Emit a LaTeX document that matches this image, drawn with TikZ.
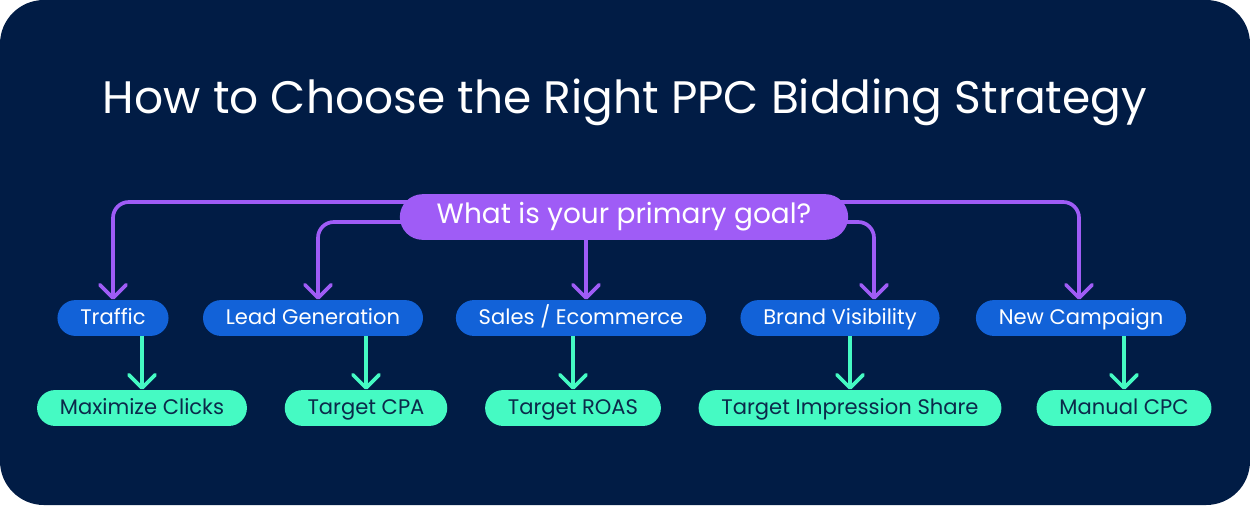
\documentclass[tikz,border=0pt]{standalone}
\usepackage{fontspec}
\setmainfont{Poppins}
\usetikzlibrary{arrows.meta,calc,backgrounds}
\definecolor{navybg}{HTML}{011C45}
\definecolor{goalpurple}{HTML}{9F5CF6}
\definecolor{goalblue}{HTML}{1262D8}
\definecolor{bidgreen}{HTML}{45FAC3}
\definecolor{bidtext}{HTML}{0B2A4A}
\begin{document}
\begin{tikzpicture}[x=0.02cm, y=-0.02cm,
    question/.style={fill=goalpurple, text=white, rounded corners=13pt, minimum height=26pt,
        inner xsep=21pt, text height=0.7em, text depth=0pt, font=\fontsize{15.9}{18}\selectfont},
    goalbox/.style={fill=goalblue, text=white, rounded corners=10.2pt, minimum height=20.4pt,
        inner xsep=13pt, text height=0.7em, text depth=0pt, font=\fontsize{12}{14}\selectfont},
    bidbox/.style={fill=bidgreen, text=bidtext, rounded corners=10.2pt, minimum height=20.4pt,
        inner xsep=13pt, text height=0.7em, text depth=0pt, font=\fontsize{12}{14}\selectfont},
    purplearrow/.style={draw=goalpurple, line width=2.1pt, rounded corners=9pt,
        -{Straight Barb[length=7.5pt, width=15pt, round]}},
    greenarrow/.style={draw=bidgreen, line width=2.1pt,
        -{Straight Barb[length=7.5pt, width=15pt, round]}}]

    \useasboundingbox (0,0) rectangle (1250,505);
    \begin{scope}[on background layer]
        \fill[white] (0,0) rectangle (1250,505);
        \fill[navybg, rounded corners=25pt] (0,0) rectangle (1250,505);
    \end{scope}

    \node[text=white, anchor=base, font=\fontsize{25.9}{30}\selectfont] (title) at (625,113) {How to Choose the Right PPC Bidding Strategy};

    \node[question] (goal) at (624,217) {What is your primary goal?};

    \node[goalbox] (traffic) at (113,318) {Traffic};
    \node[goalbox] (leadgen) at (313,318) {Lead Generation};
    \node[goalbox] (sales) at (581,318) {Sales / Ecommerce};
    \node[goalbox] (brand) at (840,318) {Brand Visibility};
    \node[goalbox] (newcamp) at (1081,318) {New Campaign};

    \node[bidbox] (clicks) at (142,408) {Maximize Clicks};
    \node[bidbox] (cpa) at (366,408) {Target CPA};
    \node[bidbox] (roas) at (573,408) {Target ROAS};
    \node[bidbox] (impshare) at (850,408) {Target Impression Share};
    \node[bidbox] (cpc) at (1124,408) {Manual CPC};

    \begin{scope}[on background layer]
        \draw[purplearrow] ($(goal.center)+(0,-15)$) -| (traffic.north);
        \draw[purplearrow] ($(goal.center)+(0,5)$) -| ($(leadgen.north)+(5,0)$);
        \draw[purplearrow] ($(goal.center -| sales.north)+(5,0)$) -- ($(sales.north)+(5,0)$);
        \draw[purplearrow] ($(goal.center)+(0,5)$) -| ($(brand.north)+(34,0)$);
        \draw[purplearrow] ($(goal.center)+(0,-15)$) -| ($(newcamp.north)+(-2,0)$);

        \draw[greenarrow] (traffic.center -| clicks.north) -- (clicks.north);
        \draw[greenarrow] (leadgen.center -| cpa.north) -- (cpa.north);
        \draw[greenarrow] (sales.center -| roas.north) -- (roas.north);
        \draw[greenarrow] (brand.center -| impshare.north) -- (impshare.north);
        \draw[greenarrow] (newcamp.center -| cpc.north) -- (cpc.north);
    \end{scope}

\end{tikzpicture}
\end{document}
